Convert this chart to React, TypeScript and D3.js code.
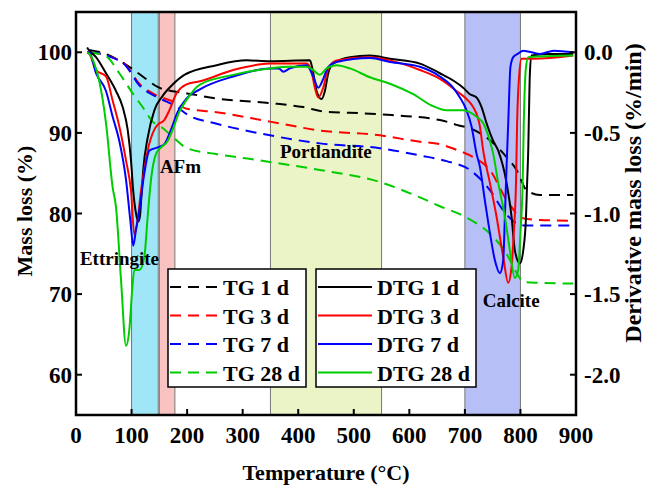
import React from "react";
import * as d3 from "d3";

// TG curves (mass %): [temperature, mass]
const tg1d = [[24,100.3],[57,99.7],[87,98.6],[120,97.0],[147,95.7],[180,95.1],[200,94.9],[250,94.3],[349,93.7],[409,93.2],[451,92.6],[493,92.5],[547,92.3],[655,91.6],[685,91.0],[715,90.4],[745,89.1],[775,87.0],[793,85.4],[811,82.9],[835,82.3],[895,82.3]];
const tg3d = [[25,100],[60,99.5],[90,98.4],[114,96.1],[144,94.7],[174,93.9],[199,93.0],[250,92.6],[349,91.4],[439,90.3],[547,89.7],[619,88.9],[655,88.6],[685,87.9],[715,87.0],[745,85.4],[775,81.7],[805,79.4],[835,79.2],[895,79.1]];
const tg7d = [[25,100],[60,99.5],[90,98.3],[114,95.9],[144,94.5],[180,93.3],[202,92.2],[250,91.2],[349,89.7],[439,88.7],[547,88.1],[619,87.2],[667,86.5],[709,85.4],[745,82.9],[769,80.4],[793,78.8],[811,78.5],[895,78.5]];
const tg28d = [[24,100],[54,99.5],[78,97.4],[102,94.9],[120,93.2],[138,91.4],[156,90.6],[174,89.5],[200,88.1],[250,87.4],[300,86.9],[349,86.4],[439,85.4],[547,83.9],[619,82.0],[655,80.9],[703,79.5],[745,77.5],[775,75.0],[796,72.3],[805,71.5],[835,71.4],[895,71.3]];

// DTG curves (%/min): [temperature, derivative]
const dtg1d = [[20,0.03],[24,0.01],[36,-0.03],[54,-0.13],[72,-0.24],[84,-0.34],[93,-0.48],[99,-0.67],[103,-0.86],[108,-1.0],[112,-1.05],[115,-1.02],[118,-0.88],[121,-0.73],[129,-0.53],[141,-0.36],[156,-0.27],[174,-0.2],[195,-0.14],[253,-0.08],[307,-0.05],[349,-0.055],[421,-0.05],[426,-0.11],[433,-0.24],[442,-0.29],[448,-0.24],[454,-0.13],[463,-0.07],[493,-0.03],[529,-0.02],[565,-0.04],[619,-0.07],[655,-0.13],[679,-0.175],[697,-0.22],[709,-0.26],[721,-0.28],[730,-0.34],[739,-0.44],[751,-0.55],[760,-0.61],[775,-0.81],[784,-1.02],[790,-1.23],[799,-1.31],[805,-1.23],[810,-1.02],[812,-0.81],[814,-0.61],[815,-0.44],[817,-0.13],[820,-0.02],[850,-0.01],[895,-0.01]];
const dtg3d = [[20,0.0],[24,-0.01],[36,-0.11],[54,-0.15],[66,-0.30],[78,-0.46],[90,-0.67],[99,-0.86],[105,-1.13],[111,-1.04],[117,-0.86],[120,-0.79],[129,-0.61],[141,-0.48],[147,-0.45],[159,-0.42],[168,-0.36],[180,-0.26],[198,-0.2],[223,-0.18],[283,-0.11],[349,-0.07],[415,-0.07],[424,-0.12],[430,-0.22],[436,-0.28],[445,-0.22],[454,-0.10],[469,-0.05],[529,-0.03],[565,-0.05],[619,-0.11],[655,-0.165],[685,-0.24],[703,-0.29],[715,-0.34],[727,-0.46],[733,-0.61],[745,-0.81],[757,-1.02],[769,-1.27],[778,-1.43],[784,-1.33],[788,-1.12],[792,-0.81],[794,-0.44],[798,-0.13],[802,-0.04],[823,-0.04],[895,-0.02]];
const dtg7d = [[20,0.0],[24,0.0],[36,-0.13],[54,-0.24],[66,-0.40],[78,-0.55],[90,-0.79],[98,-1.05],[103,-1.20],[108,-1.1],[114,-0.98],[123,-0.75],[132,-0.61],[147,-0.59],[159,-0.57],[171,-0.48],[183,-0.37],[198,-0.29],[223,-0.23],[283,-0.15],[349,-0.10],[365,-0.1],[373,-0.12],[385,-0.1],[415,-0.08],[427,-0.15],[436,-0.22],[445,-0.165],[454,-0.09],[469,-0.06],[529,-0.035],[565,-0.06],[619,-0.09],[655,-0.15],[679,-0.22],[691,-0.28],[703,-0.36],[712,-0.46],[721,-0.63],[727,-0.71],[736,-0.92],[745,-1.12],[754,-1.29],[763,-1.37],[769,-1.29],[772,-1.02],[775,-0.71],[778,-0.44],[782,-0.09],[787,-0.03],[795,-0.01],[805,0.01],[835,-0.01],[860,0.01],[895,0.0]];
const dtg28d = [[20,0.0],[24,-0.01],[33,-0.07],[42,-0.18],[54,-0.44],[66,-0.84],[72,-0.96],[81,-1.41],[90,-1.82],[96,-1.72],[101,-1.48],[105,-1.35],[114,-1.35],[123,-1.27],[129,-1.02],[135,-0.79],[144,-0.63],[153,-0.59],[165,-0.55],[174,-0.48],[186,-0.37],[198,-0.30],[223,-0.20],[283,-0.14],[349,-0.10],[385,-0.09],[415,-0.09],[427,-0.11],[439,-0.14],[451,-0.10],[469,-0.08],[493,-0.10],[529,-0.155],[565,-0.195],[607,-0.26],[640,-0.33],[667,-0.36],[697,-0.36],[721,-0.40],[733,-0.44],[745,-0.55],[751,-0.63],[760,-0.81],[772,-1.02],[781,-1.23],[790,-1.40],[796,-1.35],[800,-1.12],[804,-0.81],[806,-0.44],[810,-0.09],[814,-0.03],[895,-0.02]];

const tgNames = ["TG 1 d", "TG 3 d", "TG 7 d", "TG 28 d"];
const dtgNames = ["DTG 1 d", "DTG 3 d", "DTG 7 d", "DTG 28 d"];
const colors = ["#000000", "#ff0000", "#0000ff", "#00cc00"];

// shaded temperature ranges
const bands = [
  { from: 100, to: 148, color: "#9fe7f7" },
  { from: 150, to: 178, color: "#f8c3c0" },
  { from: 350, to: 550, color: "#ebf4c6" },
  { from: 700, to: 800, color: "#b7bff7" },
];
// phase labels, placed in data units (temperature, mass %)
const labels = [
  { text: "Ettringite", t: 7, m: 73.6 },
  { text: "AFm", t: 151, m: 85.0 },
  { text: "Portlandite", t: 367, m: 86.9 },
  { text: "Calcite", t: 732, m: 68.4 },
];

const xTicks = [0, 100, 200, 300, 400, 500, 600, 700, 800, 900];
const yTicks = [60, 70, 80, 90, 100];
const y2Ticks = [0, -0.5, -1.0, -1.5, -2.0];

const W = 647, H = 487;
const margin = { top: 12, right: 71, bottom: 72, left: 76 };
const font = "'Liberation Serif', 'Times New Roman', serif";

export default function App() {
  const x = d3.scaleLinear().domain([0, 900]).range([margin.left, W - margin.right]);
  const y = d3.scaleLinear().domain([55, 105]).range([H - margin.bottom, margin.top]);
  const y2 = d3.scaleLinear().domain([-2.25, 0.25]).range([H - margin.bottom, margin.top]);

  const tgLine = d3.line().x(d => x(d[0])).y(d => y(d[1])).curve(d3.curveMonotoneX);
  const dtgLine = d3.line().x(d => x(d[0])).y(d => y2(d[1])).curve(d3.curveMonotoneX);

  const left = margin.left, right = W - margin.right;
  const top = margin.top, bottom = H - margin.bottom;

  const tgs = [tg1d, tg3d, tg7d, tg28d];
  const dtgs = [dtg1d, dtg3d, dtg7d, dtg28d];

  return (
    <svg width={W} height={H} style={{ position: "absolute", left: 0, top: 0, background: "#fff" }}
      fontFamily={font} fontWeight="bold">
      {bands.map((b, i) => (
        <rect key={i} x={x(b.from)} y={top} width={x(b.to) - x(b.from)} height={bottom - top}
          fill={b.color} stroke="#777" strokeWidth={1} />
      ))}
      <g fill="none" strokeWidth={2}>
        {tgs.map((d, i) => (
          <path key={"tg" + i} d={tgLine(d)} stroke={colors[i]} strokeDasharray="11,7" />
        ))}
        {dtgs.map((d, i) => (
          <path key={"dtg" + i} d={dtgLine(d)} stroke={colors[i]} />
        ))}
      </g>

      {/* frame */}
      <rect x={left} y={top} width={right - left} height={bottom - top} fill="none" stroke="#000" strokeWidth={2.5} />

      {/* x axis */}
      {xTicks.map(t => (
        <g key={"x" + t}>
          <line x1={x(t)} x2={x(t)} y1={bottom} y2={bottom - 6} stroke="#000" strokeWidth={2} />
          <text x={x(t)} y={443} textAnchor="middle" fontSize={23}>{t}</text>
        </g>
      ))}
      {/* left axis */}
      {yTicks.map(t => (
        <g key={"y" + t}>
          <line x1={left} x2={left + 6} y1={y(t)} y2={y(t)} stroke="#000" strokeWidth={2} />
          <text x={72} y={y(t) + 8} textAnchor="end" fontSize={23}>{t}</text>
        </g>
      ))}
      {/* right axis */}
      {y2Ticks.map(t => (
        <g key={"y2" + t}>
          <line x1={right} x2={right - 6} y1={y2(t)} y2={y2(t)} stroke="#000" strokeWidth={2} />
          <text x={584} y={y2(t) + 8} textAnchor="start" fontSize={23}>{d3.format(".1f")(t).replace("−", "-")}</text>
        </g>
      ))}

      <text x={326} y={480} textAnchor="middle" fontSize={22}>Temperature (°C)</text>
      <text transform="translate(32,211) rotate(-90)" textAnchor="middle" fontSize={22}>Mass loss (%)</text>
      <text transform="translate(641,193) rotate(-90)" textAnchor="middle" fontSize={24}>Derivative mass loss (%/min)</text>

      {labels.map(l => (
        <text key={l.text} x={x(l.t)} y={y(l.m)} fontSize={19}>{l.text}</text>
      ))}

      {/* legends */}
      <rect x={168} y={269} width={138} height={118} fill="#fff" stroke="#000" strokeWidth={1.5} />
      {tgNames.map((n, i) => (
        <g key={n}>
          <line x1={170} x2={218} y1={287 + i * 28.5} y2={287 + i * 28.5} stroke={colors[i]} strokeWidth={2} strokeDasharray="11,7" />
          <text x={223} y={295 + i * 28.5} fontSize={22}>{n}</text>
        </g>
      ))}
      <rect x={316} y={269} width={160} height={118} fill="#fff" stroke="#000" strokeWidth={1.5} />
      {dtgNames.map((n, i) => (
        <g key={n}>
          <line x1={318} x2={372} y1={287 + i * 28.5} y2={287 + i * 28.5} stroke={colors[i]} strokeWidth={2} />
          <text x={377} y={295 + i * 28.5} fontSize={22}>{n}</text>
        </g>
      ))}
    </svg>
  );
}
